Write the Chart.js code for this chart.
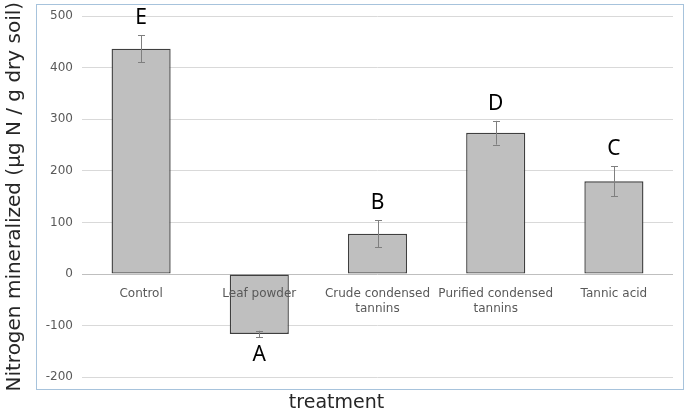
<!DOCTYPE html>
<html>
<head>
<meta charset="utf-8">
<script src="https://cdn.jsdelivr.net/npm/chart.js@4"></script>
<style>
  html, body { margin: 0; padding: 0; background: #fff; }
  #wrap { width: 685px; height: 414px; }
</style>
</head>
<body>
<div id="wrap"><canvas id="chart" width="685" height="414"></canvas></div>
<script>
// Data
const treatments = ["Control", "Leaf powder", ["Crude condensed", "tannins"], ["Purified condensed", "tannins"], "Tannic acid"];
const nMineralized = [437, -116, 78, 274, 180];
const stdErr = [26, 6, 26, 23, 29];
const groupLetters = ["E", "A", "B", "D", "C"];

// Frame round the plot (like the Excel chart border)
const frame = {
  id: "frame",
  beforeDraw(chart) {
    const ctx = chart.ctx;
    ctx.save();
    ctx.strokeStyle = "#a7c3dc";
    ctx.lineWidth = 1;
    ctx.strokeRect(36.5, 4.5, 647, 385);
    ctx.restore();
  },
};

// Error bars + significance letters
const errorBars = {
  id: "errorBars",
  afterDatasetsDraw(chart) {
    const ctx = chart.ctx;
    const y = chart.scales.y;
    const meta = chart.getDatasetMeta(0);
    ctx.save();
    meta.data.forEach((bar, i) => {
      const v = nMineralized[i];
      const e = stdErr[i];
      const yHi = y.getPixelForValue(v + e);
      const yLo = y.getPixelForValue(v - e);
      const x = Math.round(bar.x) + 0.5;
      ctx.strokeStyle = "#7f7f7f";
      ctx.lineWidth = 1;
      ctx.beginPath();
      ctx.moveTo(x, yHi);
      ctx.lineTo(x, yLo);
      ctx.moveTo(x - 3.5, Math.round(yHi) + 0.5);
      ctx.lineTo(x + 3.5, Math.round(yHi) + 0.5);
      ctx.moveTo(x - 3.5, Math.round(yLo) + 0.5);
      ctx.lineTo(x + 3.5, Math.round(yLo) + 0.5);
      ctx.stroke();

      ctx.fillStyle = "#000";
      ctx.font = "21px 'Noto Sans'";
      ctx.textAlign = "center";
      ctx.textBaseline = "middle";
      const ly = v >= 0 ? yHi - 17 : yLo + 18;
      ctx.fillText(groupLetters[i], bar.x, ly);
    });
    ctx.restore();
  },
};

new Chart(document.getElementById("chart"), {
  type: "bar",
  data: {
    labels: treatments,
    datasets: [
      {
        data: nMineralized,
        backgroundColor: "#bfbfbf",
        borderColor: "#3f3f3f",
        borderWidth: 1.4,
        borderSkipped: false,
        categoryPercentage: 1,
        barPercentage: 0.5,
      },
    ],
  },
  options: {
    responsive: false,
    animation: false,
    layout: { padding: { top: 15, right: 12, left: 0, bottom: 0 } },
    plugins: {
      legend: { display: false },
      tooltip: { enabled: false },
      title: {
        display: true,
        text: "treatment",
        position: "bottom",
        color: "#262626",
        font: { family: "'DejaVu Sans'", size: 19, weight: "normal" },
        padding: { top: 14, bottom: 0 },
      },
    },
    scales: {
      x: {
        position: { y: 0 },
        grid: { display: false },
        border: { display: false },
        ticks: {
          z: 1,
          color: "#595959",
          font: { family: "'DejaVu Sans'", size: 12 },
          padding: 5,
          maxRotation: 0,
        },
      },
      y: {
        min: -200,
        max: 500,
        afterFit(scale) { scale.width = 82; },
        border: { display: false },
        grid: {
          drawTicks: false,
          color: (c) => (c.tick && c.tick.value === 0 ? "#bfbfbf" : "#d9d9d9"),
        },
        ticks: {
          stepSize: 100,
          color: "#595959",
          font: { family: "'DejaVu Sans'", size: 12 },
          padding: 9,
        },
        title: {
          display: true,
          text: "Nitrogen mineralized (μg N / g dry soil)",
          color: "#262626",
          font: { family: "'DejaVu Sans'", size: 20 },
          padding: { top: 3, bottom: 0 },
        },
      },
    },
  },
  plugins: [frame, errorBars],
});
</script>
</body>
</html>
